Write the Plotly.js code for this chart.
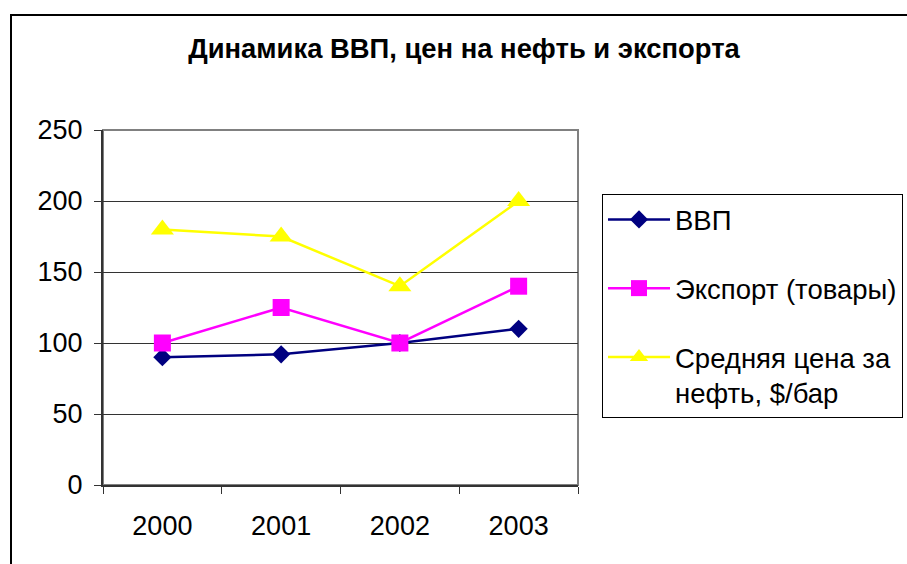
<!DOCTYPE html>
<html>
<head>
<meta charset="utf-8">
<script src="https://cdn.plot.ly/plotly-3.0.1.min.js"></script>
<style>
html,body{margin:0;padding:0;background:#fff;overflow:hidden;}
#frame{position:absolute;left:10px;top:14px;width:1000px;height:700px;border:2px solid #000;box-sizing:border-box;}
#chart{position:absolute;left:0;top:0;width:907px;height:564px;}
</style>
</head>
<body>
<div id="frame"></div>
<div id="chart"></div>
<script>
const years = ['2000', '2001', '2002', '2003'];
const gdp = [90, 92, 100, 110];
const exportGoods = [100, 125, 100, 140];
const oilPrice = [180, 175, 140, 200];
const seriesNames = ['ВВП', 'Экспорт (товары)', 'Средняя цена за<br>нефть, $/бар'];
const titleText = 'Динамика ВВП, цен на нефть и экспорта';

const FONT = '"Liberation Sans", Arial, sans-serif';

const traces = [
  {x: years, y: gdp, name: seriesNames[0], type: 'scatter', mode: 'lines+markers',
   legendgroup: 'a', line: {color: '#000080', width: 2.5},
   marker: {symbol: 'diamond', size: 14, color: '#000080'}},
  {x: years, y: exportGoods, name: seriesNames[1], type: 'scatter', mode: 'lines+markers',
   legendgroup: 'b', line: {color: '#FF00FF', width: 2.5},
   marker: {symbol: 'square', size: 17, color: '#FF00FF'}},
  {x: years, y: oilPrice, name: seriesNames[2], type: 'scatter', mode: 'lines+markers',
   legendgroup: 'c', line: {color: '#FFFF00', width: 2.5},
   marker: {symbol: 'triangle-up', size: 20, color: '#FFFF00'}}
];

const L = 103, R = 578, T = 130, B = 485;
const layout = {
  width: 907, height: 564,
  paper_bgcolor: 'rgba(0,0,0,0)', plot_bgcolor: 'rgba(0,0,0,0)',
  margin: {l: L, r: 907 - R, t: T, b: 564 - B, pad: 0, autoexpand: false},
  font: {family: FONT, size: 27, color: '#000'},
  title: {text: '<b>' + titleText + '</b>', x: 464 / 907, xref: 'container', xanchor: 'center',
          y: 1 - 48 / 564, yref: 'container', yanchor: 'middle',
          font: {family: FONT, size: 27.4, color: '#000'}},
  showlegend: true,
  legend: {x: (602 - L) / (R - L), xanchor: 'left', y: (B - 194) / (B - T), yanchor: 'top',
           bordercolor: '#000', borderwidth: 1, bgcolor: '#fff',
           font: {family: FONT, size: 27.5, color: '#000'},
           traceorder: 'grouped', tracegroupgap: 30, valign: 'top', itemwidth: 62},
  xaxis: {type: 'category', range: [-0.5, 3.5], tickson: 'boundaries', ticks: 'outside', ticklen: 7,
          tickcolor: '#333', tickwidth: 1, showgrid: false, showline: true, automargin: false,
          linecolor: '#333', linewidth: 2, zeroline: false, ticklabelstandoff: 16,
          tickfont: {family: FONT, size: 27, color: '#000'}, fixedrange: true},
  yaxis: {range: [0, 250], dtick: 50, ticks: 'outside', ticklen: 7, tickcolor: '#333',
          tickwidth: 1, showgrid: true, gridcolor: '#333', gridwidth: 1, automargin: false,
          showline: true, linecolor: '#333', linewidth: 2, zeroline: false,
          ticklabelstandoff: 6,
          tickfont: {family: FONT, size: 27, color: '#000'}, fixedrange: true},
  shapes: [
    {type: 'rect', xref: 'paper', yref: 'paper', x0: 0, x1: 1, y0: 0, y1: 1,
     line: {color: '#808080', width: 2}, layer: 'below'}
  ]
};

Plotly.newPlot('chart', traces, layout, {displayModeBar: false, staticPlot: true});
</script>
</body>
</html>
